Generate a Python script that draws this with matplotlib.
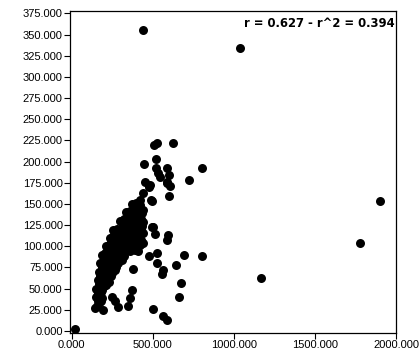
import matplotlib
matplotlib.use("Agg")
import matplotlib.pyplot as plt

# dense cluster (estimated)
cluster_x = [155, 172, 150, 168, 185, 152, 170, 188, 200, 160, 178, 196, 215, 233,
             168, 185, 205, 225, 248, 268, 178, 195, 215, 238, 262, 288,
             190, 208, 228, 250, 275, 298, 320,
             210, 228, 250, 275, 300, 325, 350, 375, 400, 420,
             235, 255, 280, 305, 330, 355, 380, 405, 430,
             255, 280, 305, 330, 355, 380, 405, 430,
             300, 325, 350, 375, 400, 425, 440,
             335, 360, 385, 410, 435,
             372, 398, 420,
             160, 180, 162, 182, 170, 190, 210, 175, 195, 215, 240,
             185, 205, 228, 252, 276, 200, 220, 240, 262, 286, 308,
             220, 240, 262, 288, 312, 338, 362, 388, 410,
             245, 268, 292, 318, 342, 368, 392, 418, 440,
             270, 292, 318, 342, 368, 392, 418, 440,
             318, 340, 362, 388, 412, 432, 350, 372, 398, 422, 392, 412]
cluster_y = [30, 33, 40, 42, 39, 50, 52, 49, 53, 60, 62, 59, 61, 58,
             70, 72, 69, 71, 68, 72, 80, 82, 79, 81, 78, 80,
             90, 92, 89, 91, 88, 90, 88,
             100, 102, 99, 101, 98, 102, 99, 101, 98, 101,
             110, 112, 109, 111, 108, 112, 109, 111, 108,
             119, 121, 118, 122, 119, 121, 118, 121,
             130, 132, 129, 131, 128, 132, 129,
             140, 142, 139, 141, 139,
             150, 151, 149,
             35, 36, 45, 46, 55, 56, 54, 65, 66, 64, 65,
             75, 76, 74, 75, 76, 85, 86, 84, 85, 86, 84,
             95, 96, 94, 95, 96, 94, 95, 96, 94,
             105, 106, 104, 105, 106, 104, 105, 106, 104,
             115, 116, 114, 115, 116, 114, 115, 116,
             125, 126, 124, 125, 126, 124, 135, 136, 134, 135, 145, 146]

# scattered points (estimated)
other_x = [20, 144, 196, 247, 268, 288, 350, 360, 371, 377, 500, 562, 591,
           660, 677, 566, 556, 646, 480, 527, 527, 694, 805,
           499, 512, 597, 589, 1165, 1775, 1900, 805, 726,
           484, 494, 602, 587, 607, 521, 535, 546, 591, 603, 591, 521,
           447, 453, 480, 443, 488, 422, 402, 443, 381, 494,
           510, 529, 627, 440, 1040]
other_y = [2, 27, 25, 40, 35, 28, 29, 39, 48, 73, 26, 18, 13,
           40, 57, 72, 67, 78, 88, 92, 80, 90, 88,
           123, 114, 113, 107, 62, 104, 154, 193, 178,
           172, 154, 159, 175, 171, 192, 186, 182, 193, 184, 176, 203,
           197, 176, 170, 163, 155, 155, 149, 143, 143, 123,
           220, 222, 222, 356, 334]

x_ticks = [0, 500, 1000, 1500, 2000]
y_ticks = [0, 25, 50, 75, 100, 125, 150, 175, 200, 225, 250, 275, 300, 325, 350, 375]
annotation = "r = 0.627 - r^2 = 0.394"

plt.rcParams['font.family'] = ['Liberation Sans', 'DejaVu Sans']

fig = plt.figure(figsize=(4.2, 3.6), dpi=100)
ax = fig.add_axes([70.3 / 420, 1 - 332.7 / 360, (396 - 70.3) / 420, (332.7 - 11.3) / 360])

ax.scatter(cluster_x + other_x, cluster_y + other_y, s=42, c='black', linewidths=0, zorder=3)

ax.set_xlim(-8, 2000)
ax.set_ylim(-2, 377.5)
ax.set_xticks(x_ticks)
ax.set_yticks(y_ticks)
ax.set_xticklabels([f"{v}.000" for v in x_ticks])
ax.set_yticklabels([f"{v}.000" for v in y_ticks])
ax.tick_params(direction='out', length=4, width=0.8, labelsize=8, colors='black', pad=1.5)
for sp in ax.spines.values():
    sp.set_linewidth(0.9)
    sp.set_color('black')

ax.text(0.995, 0.982, annotation, transform=ax.transAxes, ha='right', va='top',
        fontsize=8.4, fontweight='bold', family=['DejaVu Sans'])

fig.savefig("out.png", dpi=100)
